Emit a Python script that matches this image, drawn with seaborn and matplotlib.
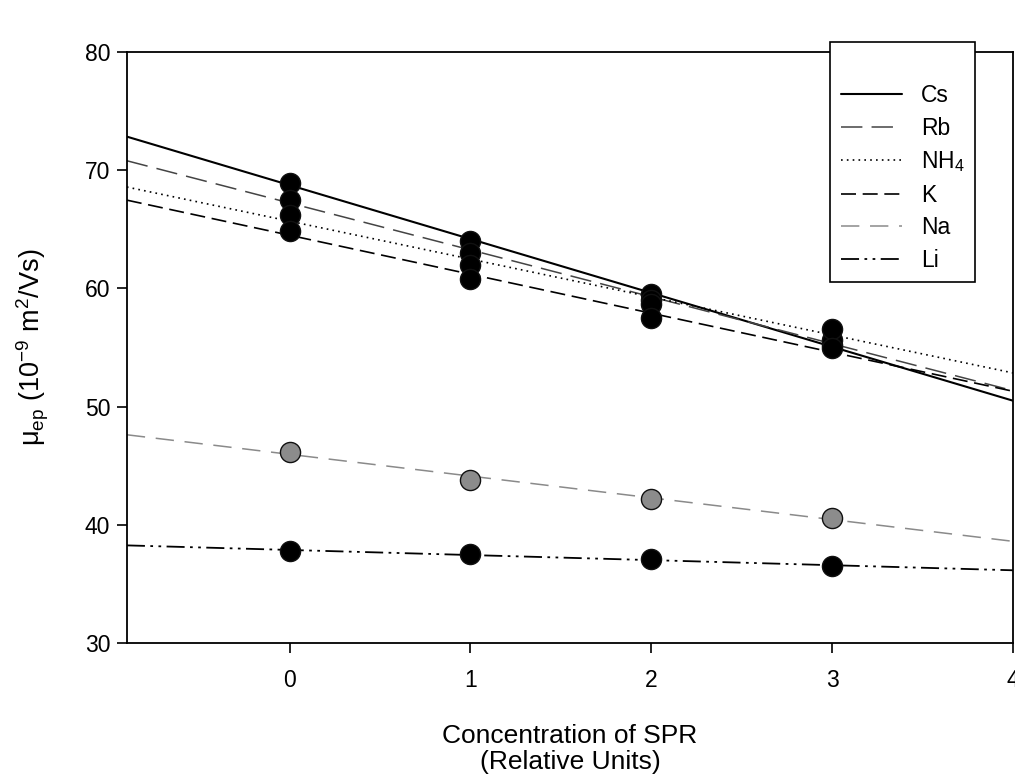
import numpy as np
import pandas as pd
import seaborn as sns
import matplotlib.pyplot as plt

# ---- data ----
conc = [0, 1, 2, 3]
cs = [68.9, 64.0, 59.5, 55.2]
rb = [67.5, 63.0, 59.0, 55.6]
nh4 = [66.2, 62.0, 58.7, 56.6]
k = [64.9, 60.8, 57.5, 55.0]
na = [46.2, 43.8, 42.2, 40.6]
li = [37.8, 37.5, 37.1, 36.5]
series_names = ["Cs", "Rb", "NH$_4$", "K", "Na", "Li"]
x_ticks = [0, 1, 2, 3, 4]
y_ticks = [30, 40, 50, 60, 70, 80]

series_values = [cs, rb, nh4, k, na, li]
styles = {
    "Cs": dict(color="black", ls="-", lw=1.5),
    "Rb": dict(color="#444444", ls=(0, (14, 6)), lw=1.1),
    "NH$_4$": dict(color="black", ls=(0, (1, 2.5)), lw=1.2),
    "K": dict(color="black", ls=(0, (9, 4)), lw=1.2),
    "Na": dict(color="#8a8a8a", ls=(0, (12, 7)), lw=1.1),
    "Li": dict(color="black", ls=(0, (10, 3, 1.5, 3, 1.5, 3)), lw=1.3),
}
point_colors = {"Cs": "black", "Rb": "black", "NH$_4$": "black", "K": "black",
                "Na": "#8c8c8c", "Li": "black"}

sns.set_style("ticks", rc={"text.color": "black", "axes.labelcolor": "black",
                           "xtick.color": "black", "ytick.color": "black",
                           "axes.edgecolor": "black"})
plt.rcParams["font.family"] = ["Liberation Sans", "DejaVu Sans"]
plt.rcParams["mathtext.fontset"] = "custom"
plt.rcParams["mathtext.rm"] = "Liberation Sans"
plt.rcParams["mathtext.it"] = "Liberation Sans:italic"
plt.rcParams["mathtext.default"] = "regular"

fig = plt.figure(figsize=(10.15, 7.77), dpi=100)
ax = fig.add_axes([0.125, 0.1725, 0.873, 0.7605])
ax.set_xlim(-0.9, 4)
ax.set_ylim(30, 80)

handles = []
for name, vals in zip(series_names, series_values):
    df = pd.DataFrame({"x": conc, "y": vals})
    st = styles[name]
    sns.regplot(data=df, x="x", y="y", ax=ax, scatter=False, ci=None,
                truncate=False, label=name,
                line_kws=dict(color=st["color"], linestyle=st["ls"], lw=st["lw"]))
    handles.append(ax.get_lines()[-1])

for name, vals in zip(series_names, series_values):
    df = pd.DataFrame({"x": conc, "y": vals})
    sns.scatterplot(data=df, x="x", y="y", ax=ax, s=210, color=point_colors[name],
                    edgecolor="#111111", linewidth=1.0, zorder=5, legend=False)

ax.set_xlim(-0.9, 4)
ax.set_ylim(30, 80)
ax.set_xticks(x_ticks)
ax.set_yticks(y_ticks)
ax.tick_params(axis="both", labelsize=16.5, direction="out", length=7, width=1.2)
ax.tick_params(axis="x", pad=12)
ax.tick_params(axis="y", pad=5)
for sp in ax.spines.values():
    sp.set_linewidth(1.3)
    sp.set_color("black")

ax.set_xlabel("Concentration of SPR\n(Relative Units)", fontsize=19, labelpad=23,
              linespacing=1.1)
ax.set_ylabel("μ$_{ep}$ (10$^{-9}$ m$^{2}$/Vs)", fontsize=19.5, labelpad=24)

leg = ax.legend(handles=handles, labels=series_names, loc="upper right",
                bbox_to_anchor=(0.957, 1.017), fontsize=16.5, title=" ",
                title_fontsize=17, frameon=True, fancybox=False, handlelength=2.7,
                handletextpad=0.8, labelspacing=0.42, borderpad=0.45,
                borderaxespad=0, framealpha=1)
leg.get_frame().set_edgecolor("black")
leg.get_frame().set_linewidth(1.2)
leg.set_zorder(10)

fig.savefig("out.png", dpi=100)
